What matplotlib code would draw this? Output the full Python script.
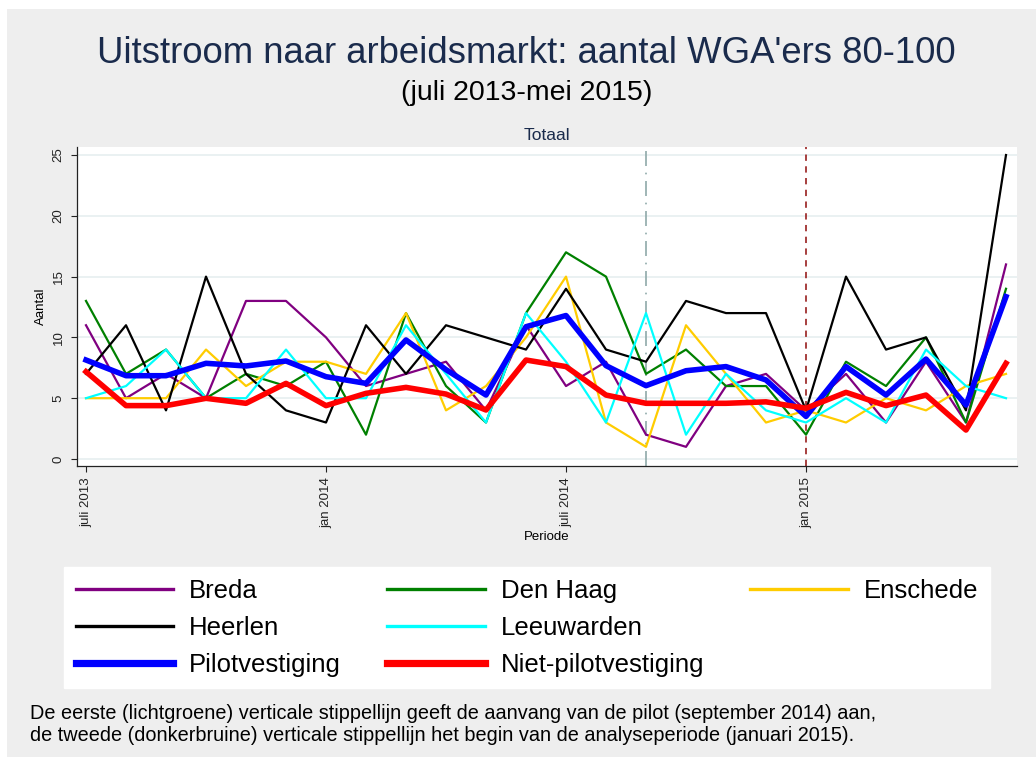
import matplotlib
matplotlib.use("Agg")
import matplotlib.pyplot as plt
from matplotlib.lines import Line2D
from matplotlib.patches import Rectangle

plt.rcParams['font.family'] = ['Liberation Sans', 'DejaVu Sans']

# months juli 2013 .. juni 2015, index 0..23
months = list(range(24))
tick_pos = [0, 6, 12, 18]
tick_labels = ['juli 2013', 'jan 2014', 'juli 2014', 'jan 2015']
pilot_start = 14      # september 2014
analysis_start = 18   # januari 2015

breda = [11, 5, 7, 5, 13, 13, 10, 6, 7, 8, 4, 11, 6, 8, 2, 1, 6, 7, 4, 7, 3, 8, 3, 16]
den_haag = [13, 7, 9, 5, 7, 6, 8, 2, 12, 6, 3, 12, 17, 15, 7, 9, 6, 6, 2, 8, 6, 10, 3, 14]
enschede = [5, 5, 5, 9, 6, 8, 8, 7, 12, 4, 6, 10, 15, 3, 1, 11, 7, 3, 4, 3, 5, 4, 6, 7]
heerlen = [7, 11, 4, 15, 7, 4, 3, 11, 7, 11, 10, 9, 14, 9, 8, 13, 12, 12, 4, 15, 9, 10, 4, 25]
leeuwarden = [5, 6, 9, 5, 5, 9, 5, 5, 11, 7, 3, 12, 8, 3, 12, 2, 7, 4, 3, 5, 3, 9, 6, 5]
pilot = [8.14, 6.85, 6.85, 7.87, 7.65, 8.06, 6.77, 6.22, 9.79, 7.35, 5.26, 10.88,
         11.8, 7.68, 6.03, 7.26, 7.6, 6.5, 3.5, 7.6, 5.26, 8.22, 4.44, 13.35]
niet_pilot = [7.18, 4.39, 4.39, 4.99, 4.58, 6.22, 4.39, 5.4, 5.89, 5.34, 4.03, 8.14,
              7.6, 5.26, 4.58, 4.58, 4.58, 4.7, 4.17, 5.48, 4.39, 5.26, 2.38, 7.87]

navy = '#1a2b4c'
panel = '#eeeeee'

fig = plt.figure(figsize=(10.36, 7.57), dpi=100)
fig.patch.set_facecolor('white')
fig.patches.append(Rectangle((7 / 1036, 0), 1, 1 - 9 / 757, transform=fig.transFigure,
                             facecolor=panel, edgecolor='none', zorder=-10))

ax = fig.add_axes([77 / 1036, 1 - 466 / 757, 940 / 1036, 319 / 757])
ax.set_facecolor('white')

thin = 1.6
thick = 4.0
ax.plot(months, breda, color='#800080', lw=thin, label='Breda')
ax.plot(months, den_haag, color='#008000', lw=thin, label='Den Haag')
ax.plot(months, enschede, color='#ffcc00', lw=thin, label='Enschede')
ax.plot(months, heerlen, color='black', lw=thin, label='Heerlen')
ax.plot(months, leeuwarden, color='#00ffff', lw=thin, label='Leeuwarden')
ax.plot(months, pilot, color='#0000ff', lw=thick, label='Pilotvestiging')
ax.plot(months, niet_pilot, color='#ff0000', lw=thick, label='Niet-pilotvestiging')

ax.axvline(pilot_start, color='#8fa9a9', lw=1.2, ls=(0, (9, 4, 1, 4)), zorder=1)
ax.axvline(analysis_start, color='#a0302f', lw=1.3, ls=(0, (3.5, 3)), zorder=1)

ax.set_xlim(-0.225, 23.275)
ax.set_ylim(-0.576, 25.66)
ax.set_yticks([0, 5, 10, 15, 20, 25])
ax.set_xticks(tick_pos)
ax.set_xticklabels(tick_labels, rotation=90)
ax.tick_params(axis='both', labelsize=9.5, length=4, width=0.8, pad=4, colors='#222222')
ax.tick_params(axis='y', pad=5)
for lab in ax.get_yticklabels():
    lab.set_rotation(90)
    lab.set_va('center')
ax.grid(axis='y', color='#e8f0f1', lw=1.3)
ax.set_axisbelow(True)
for side in ['top', 'right']:
    ax.spines[side].set_visible(False)
for side in ['left', 'bottom']:
    ax.spines[side].set_color('#222222')
    ax.spines[side].set_linewidth(0.9)

ax.set_xlabel('Periode', fontsize=9.5, labelpad=2)
ax.set_ylabel('Aantal', fontsize=9.5, labelpad=4)
ax.set_title('Totaal', fontsize=12.5, color=navy, pad=5)

fig.text(0.508, 1 - 63 / 757, "Uitstroom naar arbeidsmarkt: aantal WGA'ers 80-100",
         ha='center', va='baseline', fontsize=26.3, color=navy)
fig.text(0.508, 1 - 100 / 757, "(juli 2013-mei 2015)",
         ha='center', va='baseline', fontsize=20.5, color='black')

# legend, filled row by row (Stata style)
h, l = ax.get_legend_handles_labels()
blank = Line2D([], [], color='none')
order = [0, 3, 5, 1, 4, 6, 2]
handles = [h[i] for i in order] + [blank, blank]
labels = [l[i] for i in order] + ['', '']
leg = fig.legend(handles, labels, ncol=3, loc='upper left',
                 bbox_to_anchor=(64 / 1036, 1 - 567 / 757, 926 / 1036, 0.0),
                 mode='expand', fontsize=18.5, handlelength=3.8, handletextpad=0.62,
                 labelspacing=0.51, borderpad=0.45, borderaxespad=0,
                 frameon=True, fancybox=False, facecolor='white', edgecolor='white',
                 framealpha=1)
for line, lab in zip(leg.get_lines(), labels):
    if lab in ('Pilotvestiging', 'Niet-pilotvestiging'):
        line.set_linewidth(5.2)
    elif lab:
        line.set_linewidth(2.4)

fig.text(30 / 1036, 1 - 719 / 757,
         "De eerste (lichtgroene) verticale stippellijn geeft de aanvang van de pilot (september 2014) aan,",
         ha='left', va='baseline', fontsize=14.3, color='black')
fig.text(30 / 1036, 1 - 741 / 757,
         "de tweede (donkerbruine) verticale stippellijn het begin van de analyseperiode (januari 2015).",
         ha='left', va='baseline', fontsize=14.3, color='black')

fig.savefig('out.png', dpi=100, facecolor=fig.get_facecolor())
